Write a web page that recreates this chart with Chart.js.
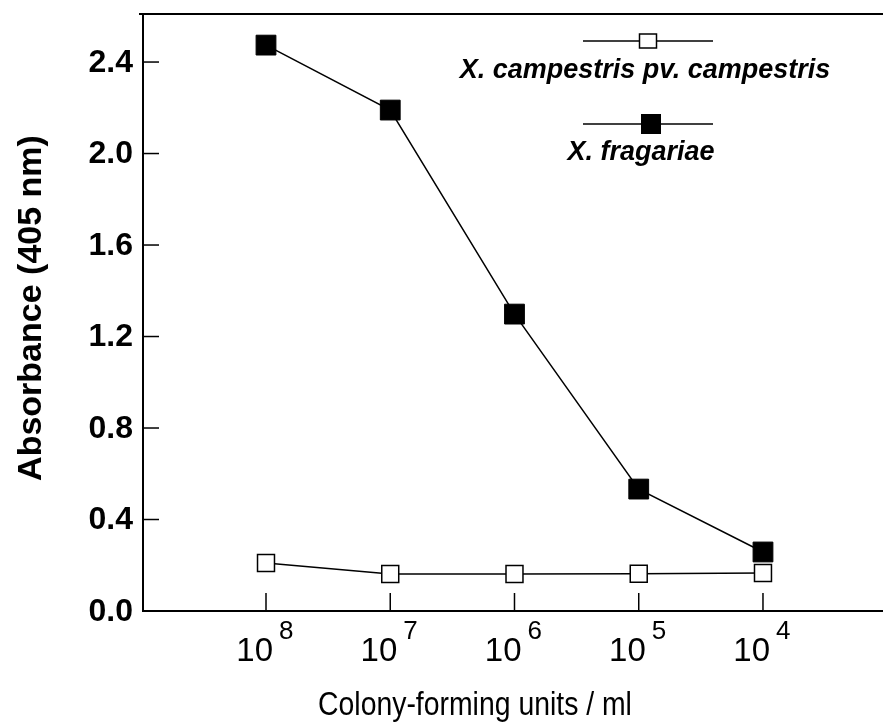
<!DOCTYPE html>
<html>
<head>
<meta charset="utf-8">
<style>
  html, body { margin: 0; padding: 0; background: #fff; }
  #wrap { width: 883px; height: 728px; }
</style>
<script src="https://cdn.jsdelivr.net/npm/chart.js@4/dist/chart.umd.min.js"></script>
</head>
<body>
<div id="wrap"><canvas id="chart" width="883" height="728"></canvas></div>
<script>
const exponents = ['8', '7', '6', '5', '4'];
const campestrisValues = [0.21, 0.162, 0.162, 0.163, 0.166];
const fragariaeValues = [2.474, 2.19, 1.298, 0.533, 0.258];
const yTicks = [0.0, 0.4, 0.8, 1.2, 1.6, 2.0, 2.4];
const seriesNames = ['X. campestris pv. campestris', 'X. fragariae'];

const font = '"Liberation Sans", Arial, sans-serif';

function toPoints(values) {
  return values.map((v, i) => ({ x: i, y: v }));
}

const decorations = {
  id: 'decorations',
  afterDraw(chart) {
    const ctx = chart.ctx;
    const area = chart.chartArea;
    const xs = chart.scales.x;
    const ys = chart.scales.y;
    ctx.save();
    ctx.strokeStyle = '#000';
    ctx.fillStyle = '#000';

    // top frame line
    ctx.lineWidth = 2;
    ctx.beginPath();
    ctx.moveTo(area.left - 4, area.top);
    ctx.lineTo(area.right, area.top);
    ctx.stroke();

    // inward ticks
    ctx.lineWidth = 1.5;
    yTicks.forEach(v => {
      const y = ys.getPixelForValue(v);
      ctx.beginPath();
      ctx.moveTo(area.left, y);
      ctx.lineTo(area.left + 16, y);
      ctx.stroke();
    });
    exponents.forEach((e, i) => {
      const x = xs.getPixelForValue(i);
      ctx.beginPath();
      ctx.moveTo(x, area.bottom);
      ctx.lineTo(x, area.bottom - 18);
      ctx.stroke();
    });

    // y tick labels
    ctx.font = 'bold 32px ' + font;
    ctx.textAlign = 'right';
    ctx.textBaseline = 'middle';
    yTicks.forEach(v => {
      ctx.fillText(v.toFixed(1), area.left - 10, ys.getPixelForValue(v) + 1);
    });

    // x tick labels: 10 with superscript exponent
    exponents.forEach((e, i) => {
      const x = xs.getPixelForValue(i);
      ctx.textBaseline = 'alphabetic';
      ctx.font = '33px ' + font;
      ctx.textAlign = 'right';
      ctx.fillText('10', x + 7, 661);
      ctx.font = '26px ' + font;
      ctx.textAlign = 'left';
      ctx.fillText(e, x + 13, 639);
    });

    // axis titles
    ctx.save();
    ctx.translate(475, 715);
    ctx.scale(0.86, 1);
    ctx.font = '33px ' + font;
    ctx.textAlign = 'center';
    ctx.textBaseline = 'alphabetic';
    ctx.fillText('Colony-forming units / ml', 0, 0);
    ctx.restore();

    ctx.save();
    ctx.translate(32, 308);
    ctx.rotate(-Math.PI / 2);
    ctx.font = '600 34px ' + font;
    ctx.textAlign = 'center';
    ctx.textBaseline = 'middle';
    ctx.fillText('Absorbance (405 nm)', 0, 0);
    ctx.restore();

    // legend
    const entries = [
      { name: seriesNames[0], y: 41, cx: 648, filled: false, w: 17, h: 14, tx: 645, ty: 71 },
      { name: seriesNames[1], y: 124, cx: 651, filled: true, w: 20, h: 20, tx: 641, ty: 153 }
    ];
    entries.forEach(en => {
      ctx.lineWidth = 1.5;
      ctx.beginPath();
      ctx.moveTo(583, en.y);
      ctx.lineTo(713, en.y);
      ctx.stroke();
      if (en.filled) {
        ctx.fillRect(en.cx - en.w / 2, en.y - en.h / 2, en.w, en.h);
      } else {
        ctx.fillStyle = '#fff';
        ctx.fillRect(en.cx - en.w / 2, en.y - en.h / 2, en.w, en.h);
        ctx.fillStyle = '#000';
        ctx.strokeRect(en.cx - en.w / 2, en.y - en.h / 2, en.w, en.h);
      }
      ctx.font = 'italic bold 27px ' + font;
      ctx.textAlign = 'center';
      ctx.textBaseline = 'middle';
      ctx.fillText(en.name, en.tx, en.ty);
    });
    ctx.restore();
  }
};

new Chart(document.getElementById('chart'), {
  type: 'line',
  data: {
    datasets: [
      {
        label: seriesNames[0],
        data: toPoints(campestrisValues),
        borderColor: '#000',
        borderWidth: 1.5,
        pointStyle: 'rect',
        pointRadius: 12,
        pointBackgroundColor: '#fff',
        pointBorderColor: '#000',
        pointBorderWidth: 1.5
      },
      {
        label: seriesNames[1],
        data: toPoints(fragariaeValues),
        borderColor: '#000',
        borderWidth: 1.5,
        pointStyle: 'rect',
        pointRadius: 14,
        pointBackgroundColor: '#000',
        pointBorderColor: '#000',
        pointBorderWidth: 1
      }
    ]
  },
  options: {
    responsive: false,
    animation: false,
    layout: { autoPadding: false, padding: { top: 14, right: 0, left: 0, bottom: 0 } },
    plugins: {
      legend: { display: false },
      tooltip: { enabled: false }
    },
    scales: {
      x: {
        type: 'linear',
        min: -0.99,
        max: 4.966,
        grid: { display: false, drawTicks: false },
        border: { display: true, color: '#000', width: 2 },
        ticks: { display: false },
        afterFit(scale) { scale.height = 117; }
      },
      y: {
        min: 0,
        max: 2.61,
        grid: { display: false, drawTicks: false },
        border: { display: true, color: '#000', width: 2 },
        ticks: { display: false },
        afterFit(scale) { scale.width = 143; }
      }
    }
  },
  plugins: [decorations]
});
</script>
</body>
</html>
